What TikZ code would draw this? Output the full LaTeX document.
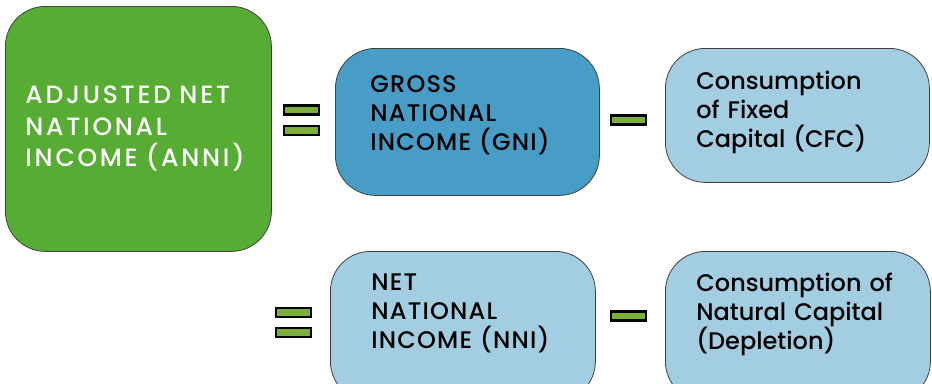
\documentclass[tikz,border=0pt]{standalone}
\usepackage{fontspec}
\setmainfont{Poppins}[UprightFont={* Medium}]
\usepackage{xcolor}
\usetikzlibrary{positioning,calc}
\definecolor{anniGreen}{HTML}{57AC33}
\definecolor{gniBlue}{HTML}{479DC6}
\definecolor{paleBlue}{HTML}{A3CDE1}
\definecolor{barGreen}{HTML}{7AB03A}
\newcommand{\capsp}{\addfontfeatures{LetterSpace=5}}
\newcommand{\lift}[1]{\rule[-#1]{0pt}{0pt}}
\tikzset{
  Abox/.style={draw=black!75, line width=0.8pt, rounded corners=40pt,
               align=left, anchor=north west, inner ysep=0pt,
               font=\fontsize{24}{29}\selectfont},
  Opbar/.style={draw=black, line width=2.2pt, fill=barGreen,
                minimum width=35pt, minimum height=9pt, inner sep=0pt}
}

\begin{document}
\begin{tikzpicture}[x=1pt, y=-1pt]
  \clip (0,0) rectangle (932,383);
  \fill[white] (0,0) rectangle (932,383);

  \node[Abox, fill=anniGreen, text=white, minimum width=266pt, minimum height=245pt,
        inner xsep=20pt, text width=226pt,
        font=\fontsize{25}{31.5}\selectfont\addfontfeatures{LetterSpace=11}]
        (anni) at (5,6) {ADJUSTED NET\\NATIONAL\\INCOME (ANNI)};
  \node[Abox, fill=gniBlue, minimum width=264pt, minimum height=147pt,
        inner xsep=35pt, text width=194pt] (gni) at (335,48)
        {\capsp GROSS\\NATIONAL\\INCOME (GNI)\lift{18pt}};
  \node[Abox, fill=paleBlue, minimum width=264pt, minimum height=134pt,
        inner xsep=31pt, text width=202pt] (cfc) at (665,48)
        {Consumption\\of Fixed\\Capital (CFC)\lift{12pt}};
  \node[Abox, fill=paleBlue, minimum width=265pt, minimum height=150pt,
        inner xsep=41pt, text width=183pt] (nni) at (330,251)
        {\capsp NET\\NATIONAL\\INCOME (NNI)\lift{30pt}};
  \node[Abox, fill=paleBlue, minimum width=265pt, minimum height=150pt,
        inner xsep=31pt, text width=203pt] (depl) at (665,251)
        {Consumption of\\Natural Capital\\(Depletion)\lift{30pt}};

  % operators
  \node[Opbar] (eqA) at (301.5,110) {};
  \node[Opbar, below=9pt of eqA] (eqB) {};
  \node[Opbar] (minA) at (628.5,120) {};
  \node[Opbar] (eqC) at (293.5,312.5) {};
  \node[Opbar, below=9pt of eqC] (eqD) {};
  \node[Opbar] (minB) at (628.5,316) {};
\end{tikzpicture}
\end{document}
